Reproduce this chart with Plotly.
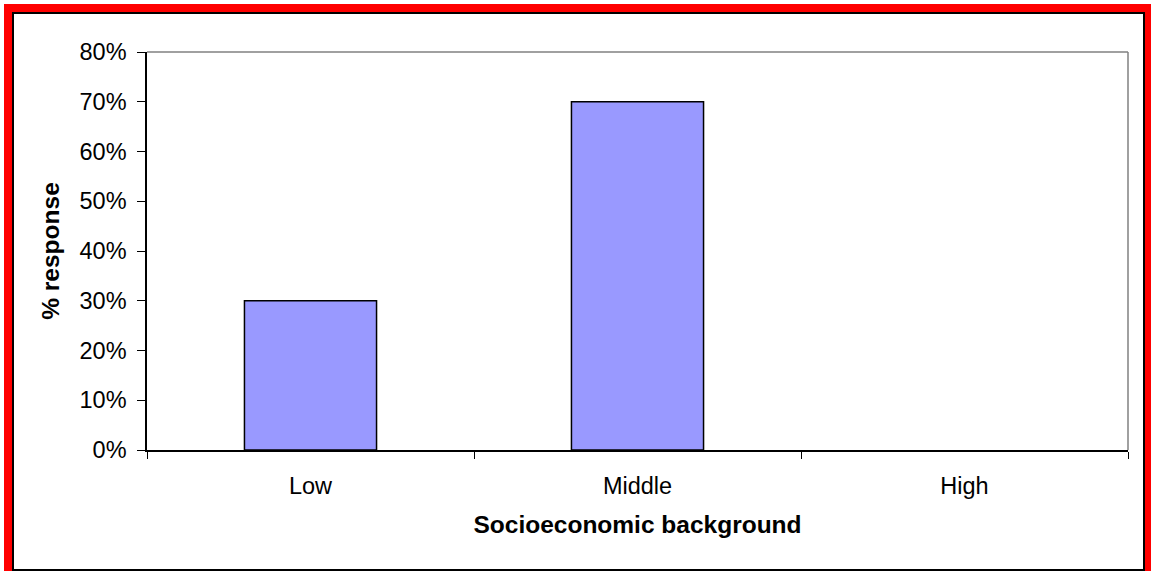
import plotly.graph_objects as go

categories = ["Low", "Middle", "High"]
values = [0.30, 0.70, 0.0]
y_tickvals = [0, 0.1, 0.2, 0.3, 0.4, 0.5, 0.6, 0.7, 0.8]

W, H = 1151, 571
L, R, T, B = 147, 1128, 52, 450

def px(x):
    return (x - L) / (R - L)

def py(y):
    return (B - y) / (B - T)

FONT = "Liberation Sans, Arial, sans-serif"

fig = go.Figure(go.Bar(
    x=categories, y=values,
    marker=dict(color="#9999FF", line=dict(color="black", width=[1.5, 1.5, 0])),
    width=0.404,
    hoverinfo="skip",
))

shapes = [
    dict(type="line", xref="paper", yref="paper", x0=0, x1=1, y0=1, y1=1,
         line=dict(color="#808080", width=1.5)),
    dict(type="line", xref="paper", yref="paper", x0=1, x1=1, y0=0, y1=1,
         line=dict(color="#808080", width=1.5)),
    dict(type="rect", xref="paper", yref="paper",
         x0=px(8), x1=px(1149), y0=py(579), y1=py(8),
         line=dict(color="#FF0000", width=8)),
    dict(type="rect", xref="paper", yref="paper",
         x0=px(13), x1=px(1144), y0=py(570), y1=py(13),
         line=dict(color="black", width=2)),
]

fig.update_layout(
    width=W, height=H,
    margin=dict(l=L, r=W - R, t=T, b=H - B),
    paper_bgcolor="white", plot_bgcolor="white",
    showlegend=False,
    shapes=shapes,
    font=dict(family=FONT, color="black", size=23.5),
    xaxis=dict(
        type="category", range=[-0.5, 2.5],
        tickson="boundaries", ticks="outside", ticklen=7, tickwidth=1, tickcolor="black",
        showline=True, linecolor="black", linewidth=1.5,
        showgrid=False, zeroline=False,
        ticklabelstandoff=14,
        tickfont=dict(size=23.5, family=FONT, color="black"),
        title=dict(text="<b>Socioeconomic background</b>", font=dict(size=24.5, family=FONT, color="black"), standoff=18),
    ),
    yaxis=dict(
        range=[0, 0.8], tickvals=y_tickvals, tickformat=".0%",
        ticks="outside", ticklen=8, tickwidth=1, tickcolor="black",
        showline=True, linecolor="black", linewidth=1.5,
        showgrid=False, zeroline=False,
        ticklabelstandoff=6,
        tickfont=dict(size=23.5, family=FONT, color="black"),
        title=dict(text="<b>% response</b>", font=dict(size=24.5, family=FONT, color="black"), standoff=13),
    ),
)

fig.write_html("out.html", config={"displayModeBar": False},
               post_script="document.body.style.margin='0';")
